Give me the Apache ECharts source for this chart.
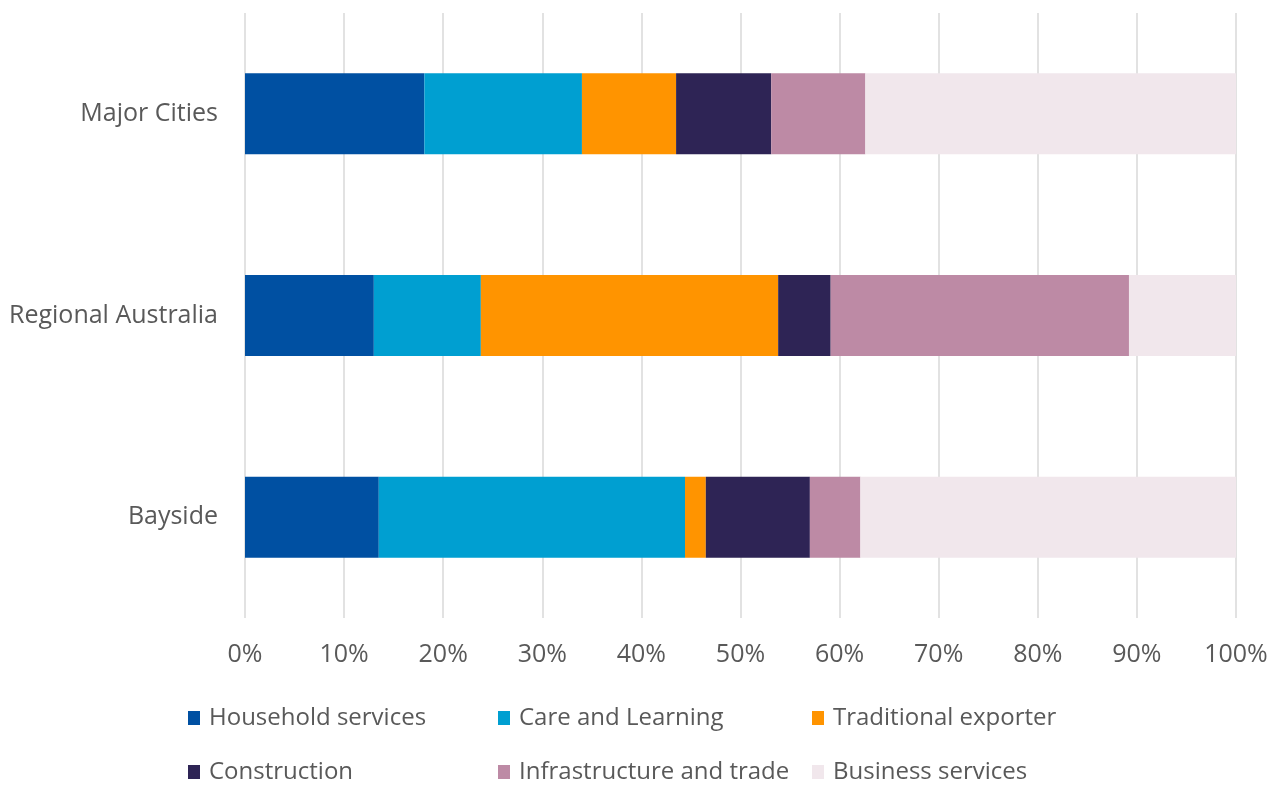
<!DOCTYPE html>
<html>
<head>
<meta charset="utf-8">
<script src="https://cdn.jsdelivr.net/npm/echarts@6/dist/echarts.min.js"></script>
<style>
  html, body { margin: 0; padding: 0; background: #fff; }
  #chart { width: 1282px; height: 785px; }
</style>
</head>
<body>
<div id="chart"></div>
<script>
const regions = ['Major Cities', 'Regional Australia', 'Bayside'];
const seriesNames = ['Household services', 'Care and Learning', 'Traditional exporter',
  'Construction', 'Infrastructure and trade', 'Business services'];
const colors = ['#0050A2', '#009FD1', '#FF9400', '#2E2455', '#BD8AA5', '#F1E7EC'];

// shares in %, order: Major Cities, Regional Australia, Bayside
const household = [18.1, 13.0, 13.5];
const careLearning = [15.9, 10.8, 30.9];
const tradExporter = [9.5, 30.0, 2.1];
const construction = [9.6, 5.3, 10.5];
const infraTrade = [9.5, 30.1, 5.1];
const business = [37.4, 10.8, 37.9];

const values = [household, careLearning, tradExporter, construction, infraTrade, business];

const chart = echarts.init(document.getElementById('chart'));
const font = 'Open Sans';

// one legend per column, two rows each
const legendBase = {
  orient: 'vertical',
  top: 703,
  height: 90,
  padding: 0,
  itemWidth: 12,
  itemHeight: 14,
  itemGap: 24,
  icon: 'rect',
  textStyle: { color: '#595959', fontSize: 24, lineHeight: 30, fontFamily: font, padding: [0, 0, 0, 4] }
};

const option = {
  animation: false,
  grid: { left: 245, right: 46, top: 13, height: 605 },
  legend: [
    Object.assign({ left: 188, data: [seriesNames[0], seriesNames[3]] }, legendBase),
    Object.assign({ left: 498, data: [seriesNames[1], seriesNames[4]] }, legendBase),
    Object.assign({ left: 812, data: [seriesNames[2], seriesNames[5]] }, legendBase)
  ],
  xAxis: {
    type: 'value',
    min: 0,
    max: 100,
    interval: 10,
    axisLabel: { formatter: '{value}%', color: '#595959', fontSize: 25, fontFamily: font, margin: 24 },
    splitLine: { lineStyle: { color: '#D9D9D9', width: 1.5 } },
    axisLine: { show: false },
    axisTick: { show: false }
  },
  yAxis: {
    type: 'category',
    inverse: true,
    data: regions,
    axisLabel: { color: '#595959', fontSize: 25, fontFamily: font, margin: 27 },
    axisLine: { show: false },
    axisTick: { show: false }
  },
  series: seriesNames.map((name, i) => ({
    name: name,
    type: 'bar',
    stack: 'total',
    barWidth: 81,
    itemStyle: { color: colors[i] },
    data: values[i]
  }))
};

chart.setOption(option);
</script>
</body>
</html>
